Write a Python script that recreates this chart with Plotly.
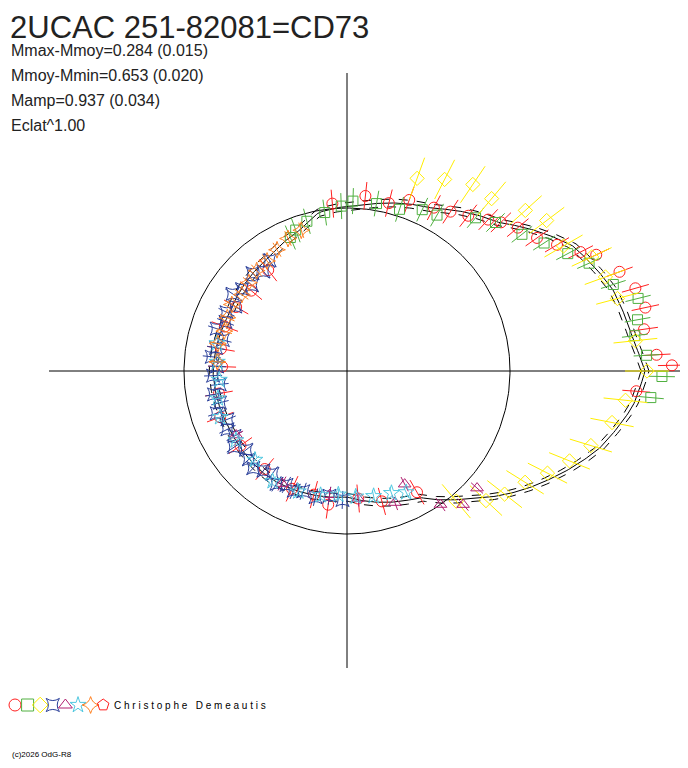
import numpy as np
import plotly.graph_objects as go

# light-curve envelope (phase angle deg, radius)
curve_theta = [0, 6, 17, 29, 44, 62, 84, 100, 108, 124, 154, 180, 207, 234, 270, 300, 314, 332, 343, 353, 360]
curve_r = [298, 288, 278, 258, 213, 184, 167, 161, 149, 138, 131, 134, 131, 132, 126, 146, 177, 230, 264, 288, 298]
ref_radius = 163

red_t = [84, 95, 76, 70, 62, 57, 52, 47, 44, 40, 35, 31, 27, 25, 20, 16, 12, 8, 3, 1, -4, 128, 140, 150, 160, 170, 178, 190, 200, 215, 230, 245, 255, 262, 275, 285, 300]
red_r = [176, 168, 173, 182, 185, 190, 197, 207, 214, 223, 232, 245, 262, 275, 290, 300, 305, 300, 310, 325, 290, 128, 125, 128, 130, 128, 125, 130, 135, 130, 128, 130, 128, 135, 128, 135, 140]
green_t = [113, 110, 105, 98, 92, 88, 80, 72, 65, 60, 50, 45, 38, 33, 28, 24, 18, 14, 10, 7, 3, -1, -5]
green_r = [145, 150, 155, 160, 165, 170, 170, 170, 178, 180, 200, 210, 222, 235, 250, 265, 280, 300, 295, 290, 300, 315, 305]
yellow_t = [70, 63, 56, 50, 42, 37, 30, 25, 20, 15, 6, 0, -6, -11, -17, -22, -27, -32, -38, -43, -50]
yellow_r = [205, 215, 225, 225, 240, 250, 250, 270, 275, 280, 290, 300, 280, 270, 255, 240, 225, 210, 200, 190, 170]
blue_t = [125, 130, 134, 138, 142, 146, 150, 154, 158, 162, 166, 170, 174, 178, 182, 186, 190, 194, 198, 202, 206, 210, 214, 218, 222, 226, 230, 234, 238, 242, 246, 250, 256, 262, 268]
blue_r = [135, 130, 136, 128, 133, 138, 129, 134, 131, 137, 128, 133, 136, 130, 134, 128, 135, 131, 137, 129, 133, 130, 136, 128, 132, 135, 130, 127, 133, 129, 131, 128, 130, 126, 129]
purple_t = [210, 240, 262, 275, 290, 297, 305, 311, 318]
purple_r = [128, 130, 125, 128, 140, 127, 163, 177, 175]
cyan_t = [168, 176, 184, 192, 200, 212, 224, 236, 248, 258, 266, 274, 282, 290, 296]
cyan_r = [133, 130, 128, 132, 135, 131, 128, 133, 130, 127, 124, 126, 128, 130, 135]
orange_t = [108, 114, 120, 126, 132, 138, 144, 150, 156, 162, 168, 176]
orange_r = [148, 145, 140, 136, 135, 132, 130, 133, 131, 129, 132, 130]

series = [
    ("circle-open", "#ff2020", red_t, red_r, 14, 11),
    ("square-open", "#50b040", green_t, green_r, 13, 10),
    ("diamond-open", "#ffee00", yellow_t, yellow_r, 22, 11),
    ("star-square-open", "#2a3f9a", blue_t, blue_r, 9, 12),
    ("triangle-up-open", "#b02070", purple_t, purple_r, 8, 11),
    ("star-open", "#50c8e0", cyan_t, cyan_r, 6, 12),
    ("star-diamond-open", "#ff8020", orange_t, orange_r, 8, 12),
]

def xy(t, r):
    t = np.radians(np.array(t, float))
    r = np.array(r, float)
    return r * np.cos(t), r * np.sin(t)

fig = go.Figure()
ct = np.linspace(0, 360, 361)
cx, cy = xy(ct, [ref_radius] * len(ct))
fig.add_trace(go.Scatter(x=cx, y=cy, mode="lines", line=dict(color="black", width=1)))
fig.add_trace(go.Scatter(x=[-298, 335, None, 0, 0], y=[0, 0, None, 298, -297], mode="lines", line=dict(color="black", width=1)))
th = np.linspace(0, 360, 721)
rc = np.interp(th, curve_theta, curve_r)
for off, dash in [(0, "solid"), (-4, "dash"), (4, "dash")]:
    x, y = xy(th, rc + off)
    fig.add_trace(go.Scatter(x=x, y=y, mode="lines", line=dict(color="black", width=1, dash=dash)))

for sym, col, t, r, err, size in series:
    x, y = xy(t, r)
    ex, ey = [], []
    for ti, ri in zip(t, r):
        x0, y0 = xy([ti], [ri - err])
        x1, y1 = xy([ti], [ri + err])
        ex += [x0[0], x1[0], None]
        ey += [y0[0], y1[0], None]
    fig.add_trace(go.Scatter(x=ex, y=ey, mode="lines", line=dict(color=col, width=1)))
    fig.add_trace(go.Scatter(x=x, y=y, mode="markers", marker=dict(symbol=sym, size=size, color=col, line=dict(width=1, color=col))))

leg_syms = [s[0] for s in series] + ["pentagon-open"]
leg_cols = [s[1] for s in series] + ["#ff2020"]
for i, (s, c) in enumerate(zip(leg_syms, leg_cols)):
    fig.add_trace(go.Scatter(x=[-332 + i * 12.6], y=[-334], mode="markers", cliponaxis=False,
                             marker=dict(symbol=s, size=12, color=c, line=dict(width=1, color=c))))

fig.add_annotation(x=-235, y=-334, text="C h r i s t o p h e   D e m e a u t i s", showarrow=False, xanchor="left", font=dict(size=10, color="black", family="Liberation Sans"))
fig.add_annotation(x=-337, y=-383, text="(c)2026 OdG-R8", showarrow=False, xanchor="left", font=dict(size=8, color="black", family="Liberation Sans"))

fig.add_annotation(x=0, y=1, xref="paper", yref="paper", xanchor="left", yanchor="top", showarrow=False,
                   height=32, valign="top",
                   text="2UCAC 251-82081=CD73", font=dict(size=31, color="#222", family="Liberation Sans"))
texts = [("Mmax-Mmoy=0.284 (0.015)", 16, 50), ("Mmoy-Mmin=0.653 (0.020)", 16, 75), ("Mamp=0.937 (0.034)", 16, 100), ("Eclat^1.00", 16, 125)]
for txt, sz, py in texts:
    fig.add_annotation(x=-338, y=371 - py, text=txt, showarrow=False, xanchor="left", yanchor="middle", font=dict(size=sz, color="#222", family="Liberation Sans"))

fig.update_layout(width=672, height=752, margin=dict(l=0, r=0, t=0, b=0), showlegend=False,
                  paper_bgcolor="white", plot_bgcolor="white",
                  xaxis=dict(range=[-339, 333], visible=False, fixedrange=True),
                  yaxis=dict(range=[-389, 363], visible=False, fixedrange=True))
fig.write_html("out.html")
